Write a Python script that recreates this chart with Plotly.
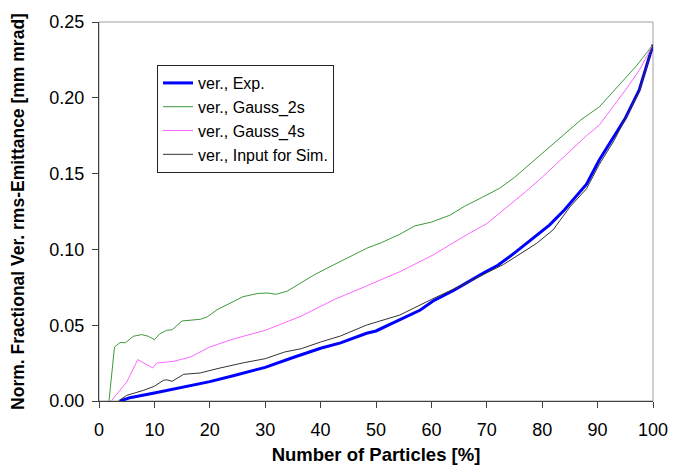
import plotly.graph_objects as go

# ---- data ----
exp_x = [3.8, 5.6, 10, 15.3, 20, 24.4, 30, 35.3, 40, 43.6, 48.3, 50, 54.3, 58, 60.3, 64,
         69.3, 72, 75.3, 78, 81.3, 84, 86.1, 88, 90.3, 92.5, 95, 97.5, 100]
exp_y = [0, 0.0022, 0.0053, 0.0092, 0.0128, 0.0168, 0.0222, 0.029, 0.0348, 0.0383, 0.0447,
         0.0462, 0.0534, 0.060, 0.066, 0.073, 0.0842, 0.0895, 0.0985, 0.1065, 0.116, 0.126,
         0.1348, 0.143, 0.159, 0.172, 0.1865, 0.205, 0.235]

g2_x = [1.8, 2.8, 3.8, 4.8, 6.2, 7.7, 8.9, 10, 11, 12.2, 13.2, 15, 18.3, 19.5, 21.3, 24.4,
        26, 28.7, 30.5, 32, 34, 36.3, 39, 42.3, 45, 48.3, 51, 54.3, 57, 60, 63.3, 66, 69,
        72.3, 75, 78.3, 81, 84.3, 87, 90.3, 93, 95, 97, 100]
g2_y = [0, 0.0356, 0.0385, 0.0385, 0.0427, 0.0438, 0.0427, 0.0405, 0.0444, 0.0466, 0.047,
        0.0528, 0.0539, 0.0554, 0.0602, 0.066, 0.0688, 0.071, 0.0712, 0.0704, 0.0725, 0.0776,
        0.0835, 0.0897, 0.0945, 0.1007, 0.1045, 0.110, 0.1155, 0.118, 0.1225, 0.1285, 0.134,
        0.1403, 0.1475, 0.158, 0.167, 0.177, 0.1855, 0.194, 0.205, 0.213, 0.221, 0.235]

g4_x = [2.2, 5, 7, 9.7, 10.4, 13.5, 16.5, 20, 24.4, 30, 36.5, 42.5, 48.3, 54.3, 60.3, 66.3,
        70, 74.1, 77, 80.1, 83, 85.5, 88, 90.3, 93, 95, 97.5, 100]
g4_y = [0, 0.0125, 0.0273, 0.0218, 0.025, 0.0262, 0.029, 0.0356, 0.0411, 0.0466, 0.056,
        0.067, 0.0759, 0.0853, 0.0963, 0.1095, 0.117, 0.1293, 0.138, 0.148, 0.158, 0.166,
        0.175, 0.182, 0.195, 0.205, 0.218, 0.235]

sim_x = [3.5, 5, 8, 10, 11.6, 12.2, 13.2, 15.3, 18.3, 21.3, 26.2, 30, 33.5, 36.5, 40, 43.6,
         48.3, 54.3, 60, 65, 70, 73, 76, 79, 82, 85, 88, 90.3, 93, 95, 97.5, 100]
sim_y = [0, 0.0037, 0.007, 0.0097, 0.0136, 0.014, 0.013, 0.0176, 0.0185, 0.0213, 0.0253,
         0.0279, 0.0323, 0.0345, 0.0389, 0.0429, 0.0501, 0.0567, 0.067, 0.0755, 0.0846, 0.090,
         0.097, 0.104, 0.113, 0.128, 0.14, 0.156, 0.172, 0.186, 0.204, 0.235]

names = ["ver., Exp.", "ver., Gauss_2s", "ver., Gauss_4s", "ver., Input for Sim."]
x_ticks = [0, 10, 20, 30, 40, 50, 60, 70, 80, 90, 100]
y_ticks = [0.00, 0.05, 0.10, 0.15, 0.20, 0.25]

FONT = "Arial, 'Liberation Sans', sans-serif"

fig = go.Figure()
series = [
    (exp_x, exp_y, names[0], "#0000FF", 3),
    (g2_x, g2_y, names[1], "#3C9A3C", 1),
    (g4_x, g4_y, names[2], "#FF66FF", 1),
    (sim_x, sim_y, names[3], "#333333", 1),
]
for i, (xs, ys, nm, col, w) in enumerate(series):
    fig.add_trace(go.Scatter(x=xs, y=ys, name=nm, mode="lines",
                             line=dict(color=col, width=w), legendgroup=f"g{i}"))

fig.add_shape(type="rect", xref="paper", yref="paper", x0=0, x1=1, y0=0, y1=1,
              line=dict(color="#A0A0A0", width=1), layer="below")

# page body has an 8px margin, so the figure is drawn at (8, 8)
fig.update_layout(
    width=676, height=457,
    margin=dict(l=91, r=31, t=14, b=64),
    paper_bgcolor="white", plot_bgcolor="white",
    font=dict(family=FONT, color="black"),
    showlegend=True,
    legend=dict(x=0.1047, y=0.8865, xanchor="left", yanchor="top",
                bordercolor="#222222", borderwidth=1, bgcolor="white",
                font=dict(size=16, family=FONT), tracegroupgap=0),
    xaxis=dict(range=[0, 100], tickvals=x_ticks, ticks="outside", ticklen=6,
               tickcolor="#404040", showline=True, linecolor="#404040", linewidth=1,
               showgrid=False, zeroline=False, tickfont=dict(size=18),
               ticklabelstandoff=6, automargin=False,
               title=dict(text="<b>Number of Particles [%]</b>", font=dict(size=18.5),
                          standoff=10)),
    yaxis=dict(range=[0, 0.25], tickvals=y_ticks, tickformat=".2f", ticks="outside",
               ticklen=6, tickcolor="#404040", showline=True, linecolor="#404040",
               linewidth=1, showgrid=False, zeroline=False, tickfont=dict(size=18),
               ticklabelstandoff=4, automargin=False,
               title=dict(text="<b>Norm. Fractional Ver. rms-Emittance [mm mrad]</b>",
                          font=dict(size=17.5), standoff=20)),
)

fig.write_html("out.html")
